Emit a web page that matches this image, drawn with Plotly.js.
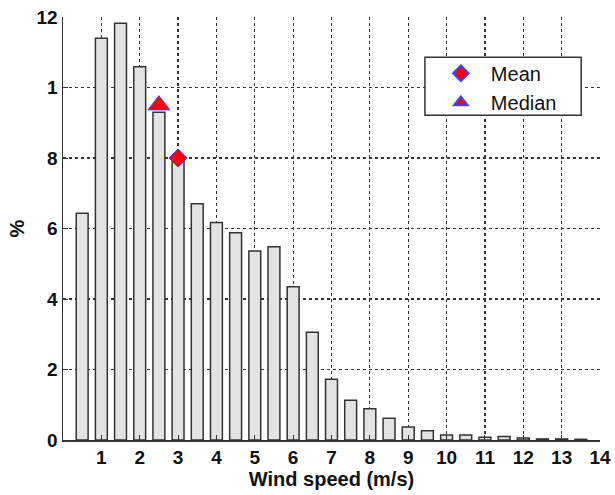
<!DOCTYPE html>
<html>
<head>
<meta charset="utf-8">
<script src="https://cdn.plot.ly/plotly-3.0.1.min.js"></script>
<style>html,body{margin:0;padding:0;background:#fff;}#chart{width:615px;height:495px;}</style>
</head>
<body>
<div id="chart"></div>
<script>
const windSpeed = [0.5,1.0,1.5,2.0,2.5,3.0,3.5,4.0,4.5,5.0,5.5,6.0,6.5,7.0,7.5,8.0,8.5,9.0,9.5,10.0,10.5,11.0,11.5,12.0,12.5,13.0,13.5];
const percent = [6.43,11.4,11.82,10.59,9.3,7.95,6.70,6.17,5.88,5.36,5.48,4.35,3.06,1.72,1.13,0.89,0.62,0.37,0.26,0.14,0.14,0.08,0.10,0.06,0.03,0.03,0.02];
const meanPoint = {x: [3.0], y: [8.0]};
const medianPoint = {x: [2.5], y: [9.5]};
const yTickVals = [0,2,4,6,8,10,12];
const yTickText = ['0','2','4','6','8','1','12'];
const xTickVals = [1,2,3,4,5,6,7,8,9,10,11,12,13,14];

const traces = [
  {type:'bar', x: windSpeed, y: percent, width: 0.31,
   marker:{color:'#e3e3e3', line:{color:'#333333', width:1.5}},
   showlegend:false, hoverinfo:'x+y'},
  {type:'scatter', mode:'markers', name:'Mean', x: meanPoint.x, y: meanPoint.y,
   marker:{symbol:'diamond', size:14, color:'#ff0000', line:{color:'#4040ff', width:1}}},
  {type:'scatter', mode:'markers', name:'Median', x: medianPoint.x, y: medianPoint.y,
   marker:{symbol:'triangle-up', size:19, color:'#ff0000', line:{color:'#4040ff', width:1}}}
];

const fam = 'Liberation Sans, Arial, sans-serif';
const tickFont = {family:fam, size:19, color:'#111', weight:'bold'};
const titleFont = {family:fam, size:20, color:'#111', weight:'bold'};
const layout = {
  width:615, height:495,
  margin:{l:63, r:15, t:17, b:55},
  paper_bgcolor:'#fff', plot_bgcolor:'#fff',
  font: {family:fam, size:19, color:'#111'},
  xaxis:{range:[0,14], tickvals:xTickVals, ticks:'inside', ticklen:5, tickcolor:'#333',
    showgrid:true, gridcolor:'#333', griddash:'dot', gridwidth:1.2,
    showline:true, linecolor:'#333', linewidth:1.5, zeroline:false,
    title:{text:'Wind speed (m/s)', font:titleFont, standoff:3}, tickfont:tickFont, fixedrange:true},
  yaxis:{range:[0,12], tickvals:yTickVals, ticktext:yTickText, ticks:'inside', ticklen:5, tickcolor:'#333',
    showgrid:true, gridcolor:'#333', griddash:'dot', gridwidth:1.2,
    showline:true, linecolor:'#333', linewidth:1.5, zeroline:false,
    title:{text:'%', font:titleFont, standoff:6}, tickfont:tickFont, fixedrange:true},
  shapes:[{type:'rect', xref:'paper', yref:'paper', x0:0.674, x1:0.965, y0:0.768, y1:0.905,
    fillcolor:'#fff', line:{color:'#333', width:1.5}, layer:'above'}],
  legend:{x:0.685, y:0.913, xanchor:'left', yanchor:'top', bgcolor:'rgba(0,0,0,0)',
    borderwidth:0, font:{family:fam, size:20, color:'#111'}, itemsizing:'constant',
    itemwidth:50, tracegroupgap:0},
  bargap:0.3, showlegend:true
};
Plotly.newPlot('chart', traces, layout, {displayModeBar:false, staticPlot:true});
</script>
</body>
</html>
